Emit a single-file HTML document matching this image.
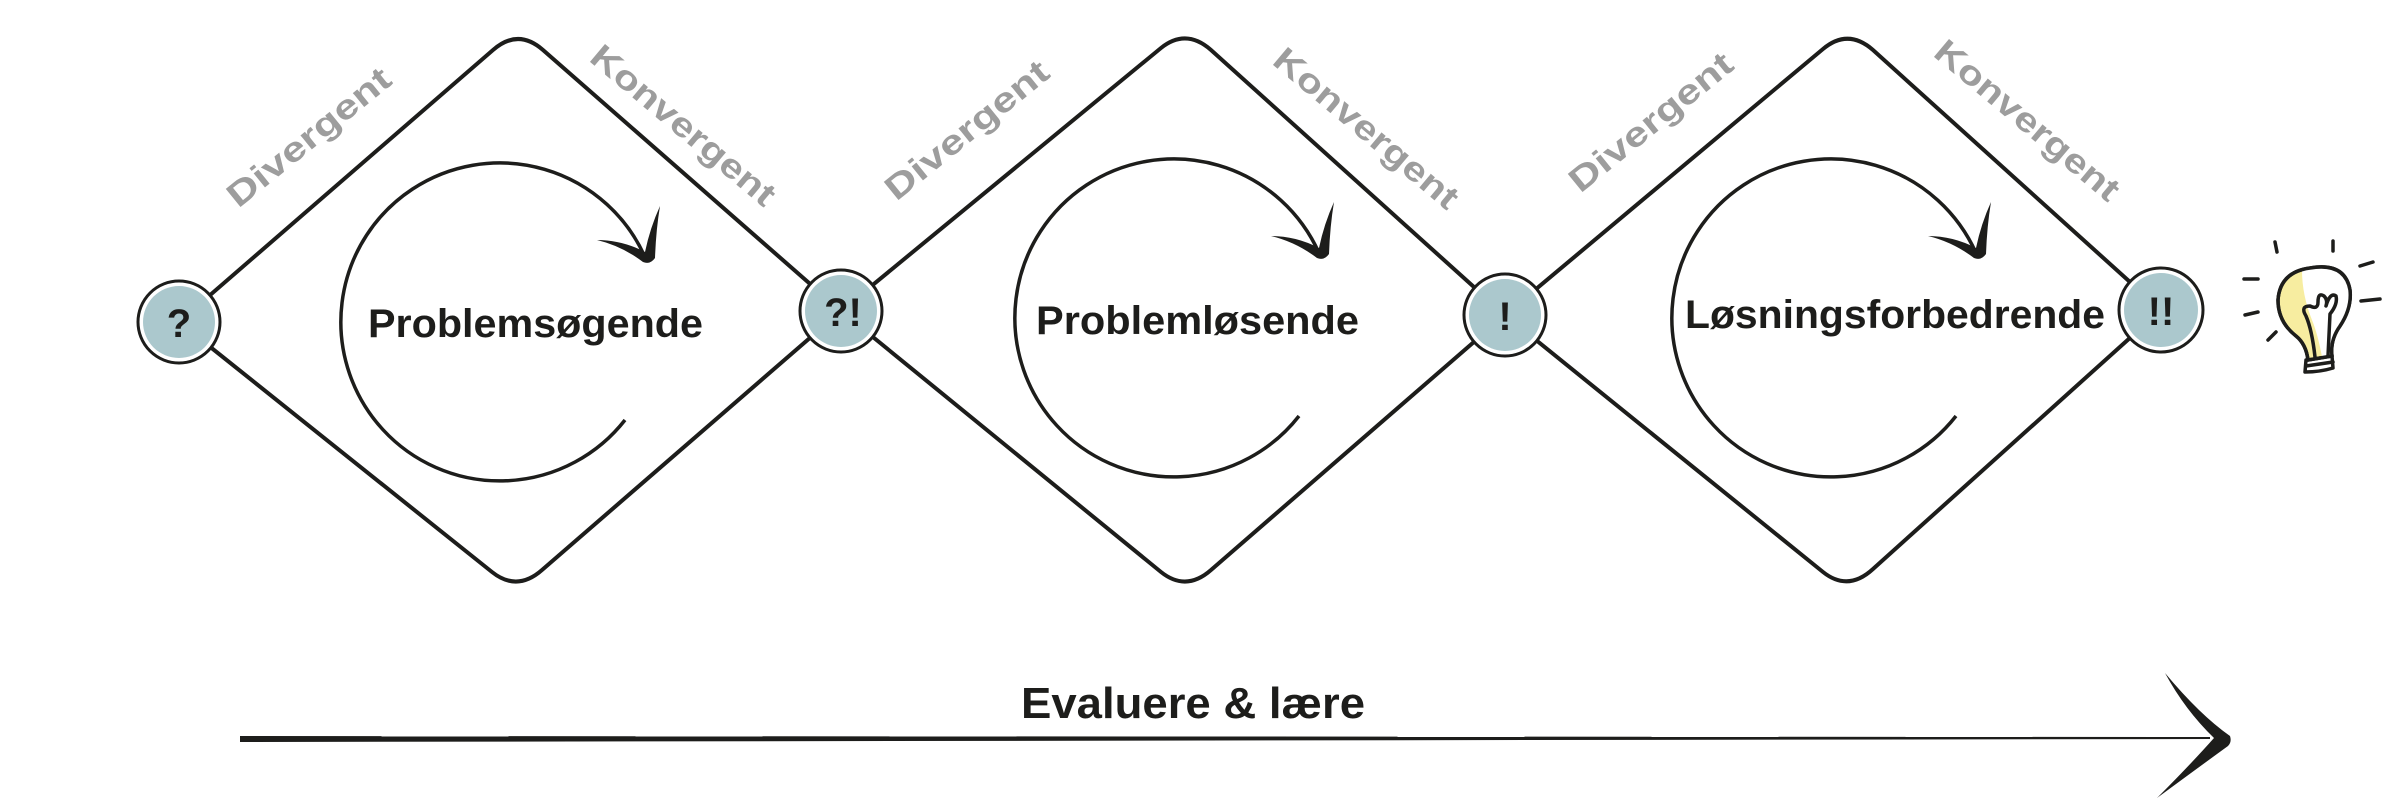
<!DOCTYPE html>
<html><head><meta charset="utf-8"><style>
html,body{margin:0;padding:0;background:#fff;}
svg{display:block;}
.lbl{font-family:"Liberation Sans",sans-serif;font-weight:bold;fill:#9d9d9d;font-size:34px;}
.big{font-family:"Liberation Sans",sans-serif;font-weight:bold;fill:#1d1d1b;font-size:40px;}
.sym{font-family:"Liberation Sans",sans-serif;font-weight:bold;fill:#1d1d1b;font-size:40px;}
</style></head><body>
<svg width="2384" height="799" viewBox="0 0 2384 799" xmlns="http://www.w3.org/2000/svg">
<g fill="none" stroke="#1d1d1b" stroke-width="4" stroke-linejoin="round">
<path d="M179,322 L493,50 Q518,28 543,50 L841,311 L542,570 Q517,592 492,572 Z"/>
<path d="M841,311 L1161,48 Q1186,28 1211,50 L1505,315 L1211,570 Q1186,592 1161,572 Z"/>
<path d="M1505,315 L1823,49 Q1848,28 1873,50 L2161,310 L1873,569 Q1848,592 1823,572 Z"/>
</g>
<g fill="none" stroke="#1d1d1b" stroke-width="3.5">
<path d="M625,420 A159,159 0 1 1 645,257"/>
<path d="M1299,416 A159,159 0 1 1 1319,253"/>
<path d="M1956,416 A159,159 0 1 1 1976,253"/>
</g>
<g fill="#1d1d1b">
<path d="M597,240 Q622,246 643,262 Q650,265 655,258 Q656,230 660,206 Q650,228 645,252 Q622,240 597,240 Z"/>
<path d="M1271,236 Q1296,242 1317,258 Q1324,261 1329,254 Q1330,226 1334,202 Q1324,224 1319,248 Q1296,236 1271,236 Z"/>
<path d="M1928,236 Q1953,242 1974,258 Q1981,261 1986,254 Q1987,226 1991,202 Q1981,224 1976,248 Q1953,236 1928,236 Z"/>
</g>
<g stroke="#1d1d1b" stroke-width="3">
<circle cx="179" cy="322" r="41" fill="#fff"/>
<circle cx="841" cy="311" r="41" fill="#fff"/>
<circle cx="1505" cy="315" r="41" fill="#fff"/>
<circle cx="2161" cy="310" r="42" fill="#fff"/>
</g>
<g fill="#abc8cd">
<circle cx="179" cy="322" r="36"/>
<circle cx="841" cy="311" r="36"/>
<circle cx="1505" cy="315" r="36"/>
<circle cx="2161" cy="310" r="37"/>
</g>
<text class="sym" x="179" y="337" text-anchor="middle">?</text>
<text class="sym" x="843" y="326" text-anchor="middle">?!</text>
<text class="sym" x="1505" y="330" text-anchor="middle">!</text>
<text class="sym" x="2161" y="325" text-anchor="middle">!!</text>
<text class="big" x="368" y="337" textLength="335" lengthAdjust="spacingAndGlyphs">Problemsøgende</text>
<text class="big" x="1036" y="334" textLength="323" lengthAdjust="spacingAndGlyphs">Problemløsende</text>
<text class="big" x="1685" y="328" textLength="420" lengthAdjust="spacingAndGlyphs">Løsningsforbedrende</text>
<g class="lbl" text-anchor="middle">
<text transform="translate(316,146) rotate(-39)" textLength="200" lengthAdjust="spacingAndGlyphs">Divergent</text>
<text transform="translate(676,134) rotate(40)" textLength="230" lengthAdjust="spacingAndGlyphs">Konvergent</text>
<text transform="translate(974,139) rotate(-39)" textLength="200" lengthAdjust="spacingAndGlyphs">Divergent</text>
<text transform="translate(1359,137) rotate(40)" textLength="230" lengthAdjust="spacingAndGlyphs">Konvergent</text>
<text transform="translate(1658,131) rotate(-39)" textLength="200" lengthAdjust="spacingAndGlyphs">Divergent</text>
<text transform="translate(2020,129) rotate(40)" textLength="230" lengthAdjust="spacingAndGlyphs">Konvergent</text>
</g>
<path d="M240,736 L2210,737 L2210,739 L240,742 Z" fill="#1d1d1b"/>
<path d="M2165,673 Q2200,715 2230,736 Q2232,742 2228,746 Q2195,770 2157,798 Q2190,765 2214,738 Q2185,710 2165,673 Z" fill="#1d1d1b"/>
<text x="1021" y="718" font-family="Liberation Sans,sans-serif" font-weight="bold" font-size="44" fill="#1d1d1b" textLength="344" lengthAdjust="spacingAndGlyphs">Evaluere &amp; lære</text>
<g stroke="#1d1d1b" stroke-width="3.5" fill="none" stroke-linecap="round" stroke-linejoin="round">
<path d="M2310,268 Q2280,272 2278,300 Q2278,322 2296,336 Q2306,344 2308,360 L2332,356 Q2330,340 2340,326 Q2352,308 2350,290 Q2345,262 2310,268 Z" fill="#f7eda0"/>
<path d="M2302,270 Q2326,262 2345,275 Q2352,290 2350,300 Q2350,315 2338,330 Q2330,340 2332,356 L2322,357 Q2318,335 2312,320 Q2302,295 2302,270 Z" fill="#fff" stroke="none"/>
<path d="M2310,268 Q2280,272 2278,300 Q2278,322 2296,336 Q2306,344 2308,360 L2332,356 Q2330,340 2340,326 Q2352,308 2350,290 Q2345,262 2310,268 Z"/>
<path d="M2315,357 Q2312,330 2306,316 Q2300,306 2310,306 Q2318,310 2318,302 Q2318,292 2324,296 Q2328,300 2326,306 Q2330,292 2336,296 Q2338,304 2330,314 L2328,356"/>
<path d="M2306,360 L2305,372 Q2320,372 2333,368 L2332,356"/>
<path d="M2306,366 L2333,362"/>
<path d="M2275,242 L2277,252"/><path d="M2333,241 L2333,251"/>
<path d="M2360,266 L2373,262"/><path d="M2361,301 L2380,299"/>
<path d="M2244,279 L2258,279"/><path d="M2245,315 L2258,312"/>
<path d="M2268,340 L2276,332"/>
</g>
</svg>
</body></html>
